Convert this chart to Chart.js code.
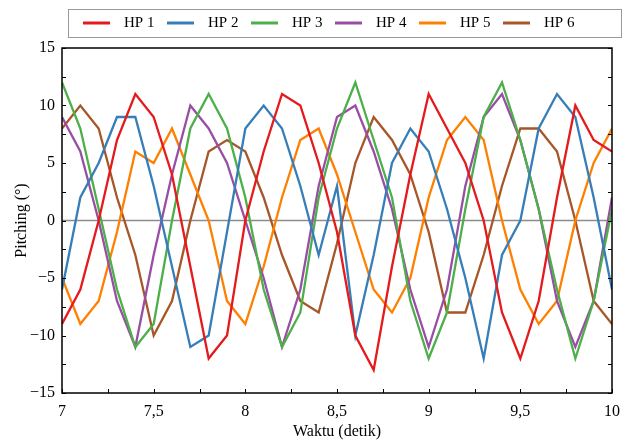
<!DOCTYPE html>
<html>
<head>
<meta charset="utf-8">
<script src="https://cdn.jsdelivr.net/npm/chart.js@4.4.0/dist/chart.umd.min.js"></script>
<style>
  html, body { margin: 0; padding: 0; background: #fff; }
  canvas { display: block; }
</style>
</head>
<body>
<canvas id="pitch-chart" width="630" height="441"></canvas>
<script>
const waktu = [7.0, 7.1, 7.2, 7.3, 7.4, 7.5, 7.6, 7.7, 7.8, 7.9, 8.0, 8.1, 8.2, 8.3, 8.4, 8.5,
  8.6, 8.7, 8.8, 8.9, 9.0, 9.1, 9.2, 9.3, 9.4, 9.5, 9.6, 9.7, 9.8, 9.9, 10.0];

const hp1 = [-9, -6, 0, 7, 11, 9, 4, -4, -12, -10, 0, 6, 11, 10, 5, -1, -10, -13, -4, 4, 11, 8, 5, 0, -8, -12, -7, 2, 10, 7, 6];
const hp2 = [-6, 2, 5, 9, 9, 3, -4, -11, -10, -1, 8, 10, 8, 3, -3, 3, -10, -3, 5, 8, 6, 1, -5, -12, -3, 0, 8, 11, 9, 2, -6];
const hp3 = [12, 8, 1, -6, -11, -9, 0, 8, 11, 8, 2, -6, -11, -8, 2, 8, 12, 7, 2, -7, -12, -8, 1, 9, 12, 7, 1, -6, -12, -7, 1];
const hp4 = [9, 6, 0, -7, -11, -3, 4, 10, 8, 5, 0, -5, -11, -6, 3, 9, 10, 6, 1, -6, -11, -6, 3, 9, 11, 7, 1, -7, -11, -7, 2];
const hp5 = [-5, -9, -7, -1, 6, 5, 8, 4, 0, -7, -9, -4, 2, 7, 8, 4, -1, -6, -8, -5, 2, 7, 9, 7, 0, -6, -9, -7, 0, 5, 8];
const hp6 = [8, 10, 8, 2, -3, -10, -7, 0, 6, 7, 6, 2, -3, -7, -8, -2, 5, 9, 7, 4, -1, -8, -8, -3, 3, 8, 8, 6, 0, -7, -9];

const seriesNames = ["HP 1", "HP 2", "HP 3", "HP 4", "HP 5", "HP 6"];
const seriesColors = ["#e41a1c", "#377eb8", "#4daf4a", "#984ea3", "#ff7f00", "#a65628"];
const seriesValues = [hp1, hp2, hp3, hp4, hp5, hp6];

const xTicks = [7, 7.5, 8, 8.5, 9, 9.5, 10];
const yTicks = [-15, -10, -5, 0, 5, 10, 15];

const serif = "'Liberation Serif', 'Times New Roman', serif";
Chart.defaults.font.family = serif;
Chart.defaults.color = "#000";

const formatTick = (v) => {
  const s = String(Math.abs(v)).replace(".", ",");
  return v < 0 ? "\u2212" + s : s;
};

// zero line under the series
const zeroLine = {
  id: "zeroLine",
  beforeDatasetsDraw(chart) {
    const { ctx, chartArea, scales } = chart;
    const y = scales.y.getPixelForValue(0);
    ctx.save();
    ctx.strokeStyle = "#8c8c8c";
    ctx.lineWidth = 1.5;
    ctx.beginPath();
    ctx.moveTo(chartArea.left, y);
    ctx.lineTo(chartArea.right, y);
    ctx.stroke();
    ctx.restore();
  },
};

// box around the plot + inward ticks
const frame = {
  id: "frame",
  afterDraw(chart) {
    const { ctx, chartArea: a, scales } = chart;
    ctx.save();
    ctx.strokeStyle = "#000";
    ctx.lineWidth = 1;
    ctx.beginPath();
    for (let v = scales.x.min; v <= scales.x.max + 1e-9; v += 0.25) {
      const x = Math.round(scales.x.getPixelForValue(v)) + 0.5;
      ctx.moveTo(x, a.bottom);
      ctx.lineTo(x, a.bottom - 4);
    }
    for (let v = scales.y.min; v <= scales.y.max + 1e-9; v += 2.5) {
      const y = Math.round(scales.y.getPixelForValue(v)) + 0.5;
      ctx.moveTo(a.left, y);
      ctx.lineTo(a.left + 4, y);
      ctx.moveTo(a.right, y);
      ctx.lineTo(a.right - 4, y);
    }
    ctx.stroke();
    ctx.lineWidth = 1.5;
    ctx.strokeRect(a.left, a.top, a.right - a.left, a.bottom - a.top);
    ctx.restore();
  },
};

// legend drawn as a single boxed row above the plot
const legendRow = {
  id: "legendRow",
  afterDraw(chart) {
    const { ctx } = chart;
    ctx.save();
    ctx.strokeStyle = "#9a9a9a";
    ctx.lineWidth = 1;
    ctx.strokeRect(68.5, 9.5, 553, 28);
    ctx.font = "15px " + serif;
    ctx.textBaseline = "middle";
    ctx.fillStyle = "#000";
    chart.data.datasets.forEach((ds, i) => {
      const x0 = 83 + i * 84;
      ctx.strokeStyle = ds.borderColor;
      ctx.lineWidth = 3;
      ctx.beginPath();
      ctx.moveTo(x0, 23);
      ctx.lineTo(x0 + 27, 23);
      ctx.stroke();
      ctx.fillText(ds.label, x0 + 41, 23.5);
    });
    ctx.restore();
  },
};

const datasets = seriesNames.map((name, i) => ({
  label: name,
  data: waktu.map((t, j) => ({ x: t, y: seriesValues[i][j] })),
  borderColor: seriesColors[i],
  backgroundColor: seriesColors[i],
  borderWidth: 2.3,
  pointRadius: 0,
  tension: 0,
  fill: false,
}));

new Chart(document.getElementById("pitch-chart"), {
  type: "line",
  data: { datasets },
  plugins: [zeroLine, frame, legendRow],
  options: {
    responsive: false,
    animation: false,
    devicePixelRatio: 1,
    layout: { padding: { top: 48, right: 18, left: 0, bottom: 0 } },
    plugins: { legend: { display: false }, tooltip: { enabled: false } },
    scales: {
      x: {
        type: "linear",
        min: 7,
        max: 10,
        afterBuildTicks: (scale) => {
          scale.ticks = xTicks.map((v) => ({ value: v }));
        },
        afterFit: (scale) => {
          scale.height = 48;
        },
        grid: { display: false, drawTicks: false },
        border: { display: false },
        ticks: {
          padding: 9,
          maxRotation: 0,
          font: { size: 16 },
          callback: (v) => formatTick(v),
        },
        title: {
          display: true,
          text: "Waktu (detik)",
          font: { size: 16 },
          padding: { top: 0, bottom: 0 },
        },
      },
      y: {
        min: -15,
        max: 15,
        afterBuildTicks: (scale) => {
          scale.ticks = yTicks.map((v) => ({ value: v }));
        },
        afterFit: (scale) => {
          scale.width = 62;
        },
        grid: { display: false, drawTicks: false },
        border: { display: false },
        ticks: {
          padding: 7,
          font: { size: 16 },
          callback: (v) => formatTick(v),
        },
        title: {
          display: true,
          text: "Pitching (\u00b0)",
          font: { size: 16 },
          padding: { top: 12, bottom: 0 },
        },
      },
    },
  },
});
</script>
</body>
</html>
